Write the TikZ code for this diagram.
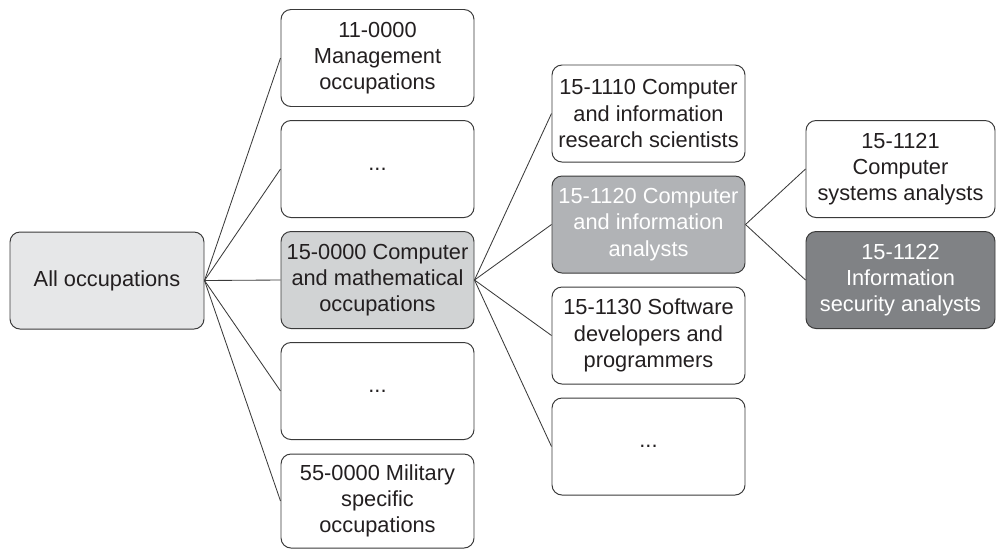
\documentclass[tikz,border=0pt]{standalone}
\usepackage{fontspec}
\setmainfont{Liberation Sans}
\usepackage{tikz}
\usetikzlibrary{positioning}
\usepackage{xcolor}

\definecolor{edgegray}{HTML}{3A3A3A}
\definecolor{textblack}{HTML}{231F20}
\definecolor{fillall}{HTML}{E6E7E8}
\definecolor{fillmajor}{HTML}{D1D3D4}
\definecolor{fillminor}{HTML}{B1B3B6}
\definecolor{filldetail}{HTML}{808285}

\begin{document}
\begin{tikzpicture}[
  box/.style={draw=edgegray, line width=0.7pt, rounded corners=0.25cm, minimum width=4.825cm, minimum height=2.425cm, align=center, inner sep=0pt, text=textblack, font=\fontsize{15.5}{18.6}\selectfont},
  link/.style={draw=edgegray, line width=0.6pt},
  lit/.style={text=white}
]
\useasboundingbox (0,0) rectangle (24.9,-13.725);

% Level 0: all occupations
\node[box, fill=fillall, minimum width=4.85cm] (all) at (2.675, -7.0125) {All occupations};

% Level 1: major groups
\node[box, fill=white] (mgmt) at (9.4375, -1.45) {11-0000\\Management\\occupations};
\node[box, fill=white] (dotsA) at (9.4375, -4.225) {...};
\node[box, fill=fillmajor] (cmo) at (9.4375, -7.0) {15-0000 Computer\\and mathematical\\occupations};
\node[box, fill=white] (dotsB) at (9.4375, -9.775) {...};
\node[box, fill=white, minimum height=2.35cm] (mil) at (9.4375, -12.525) {55-0000 Military\\specific\\occupations};

\draw[link] (all.east) -- (mgmt.west);
\draw[link] (all.east) -- (dotsA.west);
\draw[link] (all.east) -- (cmo.west);
\draw[link] (all.east) -- (dotsB.west);
\draw[link] (all.east) -- (mil.west);

% Level 2: minor groups
\node[box, fill=white] (research) at (16.2125, -2.8375) {15-1110 Computer\\and information\\research scientists};
\node[box, fill=fillminor, lit] (analysts) at (16.2125, -5.6125) {15-1120 Computer\\and information\\analysts};
\node[box, fill=white] (software) at (16.2125, -8.3875) {15-1130 Software\\developers and\\programmers};
\node[box, fill=white] (dotsC) at (16.2125, -11.1625) {...};

\draw[link] (cmo.east) -- (research.west);
\draw[link] (cmo.east) -- (analysts.west);
\draw[link] (cmo.east) -- (software.west);
\draw[link] (cmo.east) -- (dotsC.west);

% Level 3: detailed occupations
\node[box, fill=white, minimum width=4.725cm] (sysan) at (22.5125, -4.225) {15-1121\\Computer\\systems analysts};
\node[box, fill=filldetail, lit, minimum width=4.725cm] (secan) at (22.5125, -7.0) {15-1122\\Information\\security analysts};

\draw[link] (analysts.east) -- (sysan.west);
\draw[link] (analysts.east) -- (secan.west);

\end{tikzpicture}
\end{document}
